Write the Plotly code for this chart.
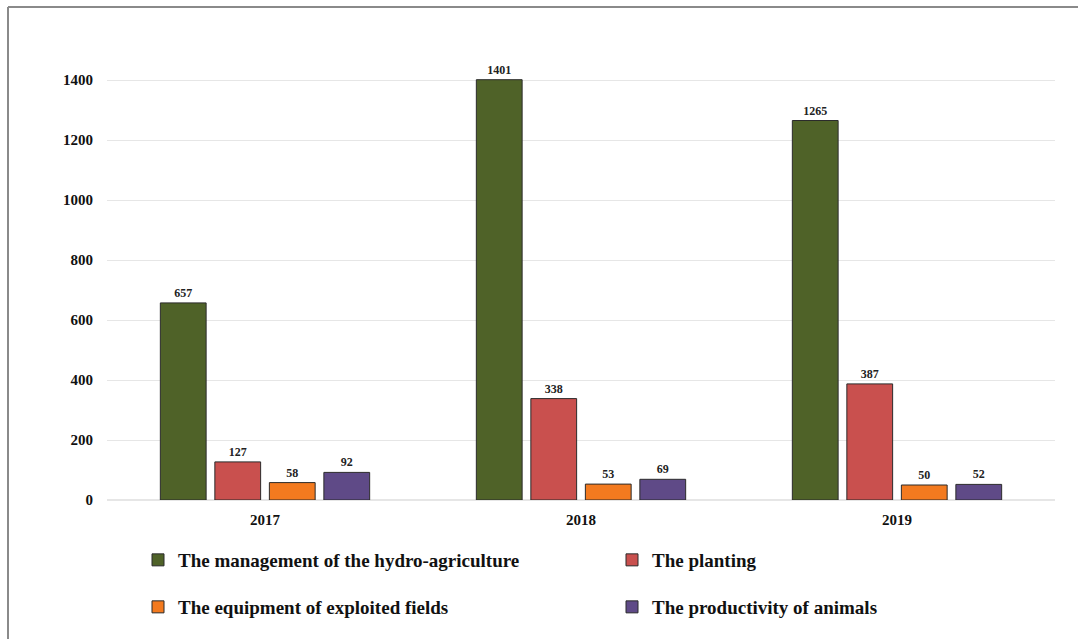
import plotly.graph_objects as go

years = ["2017", "2018", "2019"]
series_names = [
    "The management of the hydro-agriculture",
    "The planting",
    "The equipment of exploited fields",
    "The productivity of animals",
]
hydro = [657, 1401, 1265]
planting = [127, 338, 387]
equipment = [58, 53, 50]
animals = [92, 69, 52]
y_ticks = [0, 200, 400, 600, 800, 1000, 1200, 1400]

colors = ["#4F6228", "#C9504E", "#F37A1F", "#5F4A87"]
values = [hydro, planting, equipment, animals]
legend_ids = ["legend", "legend2", "legend3", "legend4"]

W, H = 1078, 639
ML, MR, MT, MB = 107, 23, 50, 139
PW, PH = W - ML - MR, H - MT - MB

FONT = "Liberation Serif"

fig = go.Figure()
for name, vals, col, lg in zip(series_names, values, colors, legend_ids):
    fig.add_trace(go.Bar(
        x=years, y=vals, name=name,
        marker=dict(color=col, line=dict(color="#2b2b2b", width=1)),
        text=[str(v) for v in vals], textposition="outside",
        textfont=dict(family=FONT, size=12, color="#222222", weight="bold"),
        cliponaxis=False, legend=lg,
    ))

def px_to_paper_x(px):
    return (px - ML) / PW

def px_to_paper_y(py):
    return (H - MB - py) / PH

legend_common = dict(
    orientation="h", xanchor="left", yanchor="middle",
    font=dict(family=FONT, size=19, color="#111111", weight="bold"),
    bgcolor="rgba(0,0,0,0)", itemclick=False, itemwidth=30,
)

legend_pos = {
    "legend": (138, 560),
    "legend2": (612, 560),
    "legend3": (138, 607),
    "legend4": (612, 607),
}
legend_layout = {
    k: dict(x=px_to_paper_x(px), y=px_to_paper_y(py), **legend_common)
    for k, (px, py) in legend_pos.items()
}

fig.update_layout(
    width=W, height=H,
    margin=dict(l=ML, r=MR, t=MT, b=MB, pad=0, autoexpand=False),
    paper_bgcolor="white", plot_bgcolor="white",
    barmode="group", bargap=0.31, bargroupgap=0.16,
    showlegend=True,
    **legend_layout,
    xaxis=dict(
        type="category", showgrid=False, zeroline=False, showline=False,
        tickfont=dict(family=FONT, size=15, color="#111111", weight="bold"),
        ticks="outside", ticklen=6, tickcolor="rgba(0,0,0,0)",
    ),
    yaxis=dict(
        range=[0, 1500], tickvals=y_ticks,
        showgrid=True, gridcolor="#E6E6E6", gridwidth=1,
        zeroline=True, zerolinecolor="#E6E6E6", showline=False,
        tickfont=dict(family=FONT, size=15, color="#111111", weight="bold"),
        ticks="outside", ticklen=10, tickcolor="rgba(0,0,0,0)",
    ),
    shapes=[
        dict(type="line", xref="paper", yref="paper",
             x0=px_to_paper_x(8), x1=px_to_paper_x(W), y0=px_to_paper_y(7), y1=px_to_paper_y(7),
             line=dict(color="#8A8A8A", width=2)),
        dict(type="line", xref="paper", yref="paper",
             x0=px_to_paper_x(8), x1=px_to_paper_x(8), y0=px_to_paper_y(7), y1=px_to_paper_y(H),
             line=dict(color="#8A8A8A", width=2)),
    ],
)

fig.write_html("out.html")
